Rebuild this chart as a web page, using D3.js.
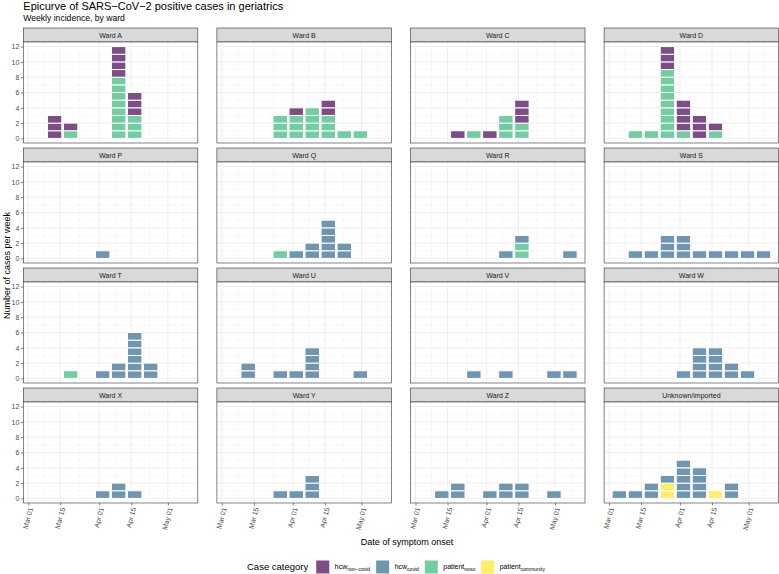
<!DOCTYPE html>
<html><head><meta charset="utf-8">
<script src="https://cdn.jsdelivr.net/npm/d3@7"></script>
<style>
body{margin:0;background:#fff}
svg{display:block}
text{font-family:"Liberation Sans",Arial,Helvetica,sans-serif}
</style>
</head><body>
<svg id="chart" width="779" height="574"></svg>
<script>
// ---------------- data ----------------
const weekStarts = ["2020-03-02","2020-03-09","2020-03-16","2020-03-23","2020-03-30",
                    "2020-04-06","2020-04-13","2020-04-20","2020-04-27","2020-05-04"];
const wards = ["Ward A","Ward B","Ward C","Ward D","Ward P","Ward Q","Ward R","Ward S",
               "Ward T","Ward U","Ward V","Ward W","Ward X","Ward Y","Ward Z","Unknown/imported"];
const categories = ["hcw_non-covid","hcw_covid","patient_noso","patient_community"];
const categoryColors = ["#440154","#31688E","#35B779","#FDE725"];
const legendMain = ["hcw","hcw","patient","patient"];
const legendSub = ["non\u2212covid","covid","noso","community"];

// counts per ward (rows follow `wards`), per weekly bin (columns follow `weekStarts`)
const hcwNonCovid = [
  [0,3,1,0,0,4,3,0,0,0], [0,0,0,0,1,0,2,0,0,0], [0,0,1,0,1,0,3,0,0,0], [0,0,0,3,4,3,1,0,0,0],
  [0,0,0,0,0,0,0,0,0,0], [0,0,0,0,0,0,0,0,0,0], [0,0,0,0,0,0,0,0,0,0], [0,0,0,0,0,0,0,0,0,0],
  [0,0,0,0,0,0,0,0,0,0], [0,0,0,0,0,0,0,0,0,0], [0,0,0,0,0,0,0,0,0,0], [0,0,0,0,0,0,0,0,0,0],
  [0,0,0,0,0,0,0,0,0,0], [0,0,0,0,0,0,0,0,0,0], [0,0,0,0,0,0,0,0,0,0], [0,0,0,0,0,0,0,0,0,0]];
const hcwCovid = [
  [0,0,0,0,0,0,0,0,0,0], [0,0,0,0,0,0,0,0,0,0], [0,0,0,0,0,0,0,0,0,0], [0,0,0,0,0,0,0,0,0,0],
  [0,0,0,0,1,0,0,0,0,0], [0,0,0,0,1,2,5,2,0,0], [0,0,0,0,0,1,1,0,0,1], [0,1,1,3,3,1,1,1,1,1],
  [0,0,0,0,1,2,6,2,0,0], [0,2,0,1,1,4,0,0,1,0], [0,0,0,1,0,1,0,0,1,1], [0,0,0,0,1,4,4,2,1,0],
  [0,0,0,0,1,2,1,0,0,0], [0,0,0,1,1,3,0,0,0,0], [0,1,2,0,1,2,2,0,1,0], [1,1,2,1,5,4,0,2,0,0]];
const patientNoso = [
  [0,0,1,0,0,8,3,0,0,0], [0,0,0,3,3,4,3,1,1,0], [0,0,0,1,0,3,2,0,0,0], [0,1,1,9,1,0,1,0,0,0],
  [0,0,0,0,0,0,0,0,0,0], [0,0,0,1,0,0,0,0,0,0], [0,0,0,0,0,0,2,0,0,0], [0,0,0,0,0,0,0,0,0,0],
  [0,0,1,0,0,0,0,0,0,0], [0,0,0,0,0,0,0,0,0,0], [0,0,0,0,0,0,0,0,0,0], [0,0,0,0,0,0,0,0,0,0],
  [0,0,0,0,0,0,0,0,0,0], [0,0,0,0,0,0,0,0,0,0], [0,0,0,0,0,0,0,0,0,0], [0,0,0,0,0,0,0,0,0,0]];
const patientCommunity = [
  [0,0,0,0,0,0,0,0,0,0], [0,0,0,0,0,0,0,0,0,0], [0,0,0,0,0,0,0,0,0,0], [0,0,0,0,0,0,0,0,0,0],
  [0,0,0,0,0,0,0,0,0,0], [0,0,0,0,0,0,0,0,0,0], [0,0,0,0,0,0,0,0,0,0], [0,0,0,0,0,0,0,0,0,0],
  [0,0,0,0,0,0,0,0,0,0], [0,0,0,0,0,0,0,0,0,0], [0,0,0,0,0,0,0,0,0,0], [0,0,0,0,0,0,0,0,0,0],
  [0,0,0,0,0,0,0,0,0,0], [0,0,0,0,0,0,0,0,0,0], [0,0,0,0,0,0,0,0,0,0], [0,0,0,2,0,0,1,0,0,0]];

const yTicks = [0,2,4,6,8,10,12];
const xTickDates = ["2020-03-01","2020-03-15","2020-04-01","2020-04-15","2020-05-01"];
const xTickLabels = ["Mar 01","Mar 15","Apr 01","Apr 15","May 01"];
const xMinorDates = ["2020-03-08","2020-03-23T12:00","2020-04-08","2020-04-23","2020-05-08"];

// ---------------- layout ----------------
const svg = d3.select("#chart");
const nCol = 4;
const colLeft0 = 23.3, colPitch = 193.6, panelW = 174.5;
const rowTop0 = 28, rowPitch = 120, stripH = 14, panelH = 101;
const parse = s => new Date(s + (s.length > 10 ? ":00Z" : "T00:00:00Z"));

const x = d3.scaleUtc()
  .domain([parse("2020-02-27T19:40"), parse("2020-05-14T02:00")])
  .range([0, panelW]);
const y = d3.scaleLinear().domain([-0.6, 12.6]).range([panelH, 0]);

// stacking order bottom -> top
const stackOrder = [
  {cat: 3, data: patientCommunity},
  {cat: 2, data: patientNoso},
  {cat: 1, data: hcwCovid},
  {cat: 0, data: hcwNonCovid}
];

const fmtColor = (c) => {
  const col = d3.rgb(c);
  const a = 0.7;
  return d3.rgb(col.r*a + 255*(1-a), col.g*a + 255*(1-a), col.b*a + 255*(1-a)).formatHex();
};

// title
svg.append("text").attr("x", 23.3).attr("y", 9.5)
  .attr("font-size", 11).attr("fill", "#000")
  .text("Epicurve of SARS\u2212CoV\u22122 positive cases in geriatrics");
svg.append("text").attr("x", 23.3).attr("y", 20.5)
  .attr("font-size", 8.6).attr("fill", "#000")
  .text("Weekly incidence, by ward");

wards.forEach((ward, wi) => {
  const col = wi % nCol, row = Math.floor(wi / nCol);
  const left = colLeft0 + col * colPitch;
  const top = rowTop0 + row * rowPitch;

  // strip
  svg.append("rect").attr("x", left).attr("y", top).attr("width", panelW).attr("height", stripH)
    .attr("fill", "#D9D9D9").attr("stroke", "#333").attr("stroke-width", 0.6);
  svg.append("text").attr("x", left + panelW/2).attr("y", top + stripH/2 + 2.5)
    .attr("text-anchor", "middle").attr("font-size", 7).attr("fill", "#1A1A1A").text(ward);

  const g = svg.append("g").attr("transform", `translate(${left},${top + stripH})`);
  g.append("rect").attr("width", panelW).attr("height", panelH).attr("fill", "#fff");

  // grid minor
  g.selectAll(".hmin").data([1,3,5,7,9,11]).join("line")
    .attr("x1", 0).attr("x2", panelW).attr("y1", d => y(d)).attr("y2", d => y(d))
    .attr("stroke", "#F0F0F0").attr("stroke-width", 0.5);
  g.selectAll(".vmin").data(xMinorDates).join("line")
    .attr("y1", 0).attr("y2", panelH).attr("x1", d => x(parse(d))).attr("x2", d => x(parse(d)))
    .attr("stroke", "#F0F0F0").attr("stroke-width", 0.5);
  // grid major
  g.selectAll(".hmaj").data(yTicks).join("line")
    .attr("x1", 0).attr("x2", panelW).attr("y1", d => y(d)).attr("y2", d => y(d))
    .attr("stroke", "#EBEBEB").attr("stroke-width", 0.8);
  g.selectAll(".vmaj").data(xTickDates).join("line")
    .attr("y1", 0).attr("y2", panelH).attr("x1", d => x(parse(d))).attr("x2", d => x(parse(d)))
    .attr("stroke", "#EBEBEB").attr("stroke-width", 0.8);

  // bars: one rect per case
  const units = [];
  weekStarts.forEach((ws, k) => {
    let cum = 0;
    stackOrder.forEach(s => {
      const n = s.data[wi][k];
      for (let i = 0; i < n; i++) {
        units.push({k, cat: s.cat, y0: cum, y1: cum + 1});
        cum += 1;
      }
    });
  });
  const day = 864e5;
  g.selectAll(".unit").data(units).join("rect")
    .attr("x", d => {
      const s = x(parse(weekStarts[d.k])), e = x(new Date(+parse(weekStarts[d.k]) + 7*day));
      return s + (e - s) * 0.05;
    })
    .attr("width", d => {
      const s = x(parse(weekStarts[d.k])), e = x(new Date(+parse(weekStarts[d.k]) + 7*day));
      return (e - s) * 0.9;
    })
    .attr("y", d => y(d.y1)).attr("height", d => y(d.y0) - y(d.y1))
    .attr("fill", d => fmtColor(categoryColors[d.cat]))
    .attr("stroke", "#fff").attr("stroke-width", 1);

  // border
  g.append("rect").attr("width", panelW).attr("height", panelH)
    .attr("fill", "none").attr("stroke", "#333").attr("stroke-width", 0.6);

  // y axis
  if (col === 0) {
    const ya = g.append("g").call(d3.axisLeft(y).tickValues(yTicks).tickSize(2.5).tickPadding(1.5));
    ya.select(".domain").remove();
    ya.selectAll("line").attr("stroke", "#333").attr("stroke-width", 0.6);
    ya.selectAll("text").attr("font-size", 7).attr("fill", "#4D4D4D")
      .attr("font-family", "Liberation Sans, Arial, sans-serif");
  }
  // x axis
  if (row === 3) {
    const xa = g.append("g").attr("transform", `translate(0,${panelH})`)
      .call(d3.axisBottom(x).tickValues(xTickDates.map(parse))
        .tickFormat((d, i) => xTickLabels[i]).tickSize(2.5).tickPadding(1.5));
    xa.select(".domain").remove();
    xa.selectAll("line").attr("stroke", "#333").attr("stroke-width", 0.6);
    xa.selectAll("text").attr("font-size", 7).attr("fill", "#4D4D4D")
      .attr("font-family", "Liberation Sans, Arial, sans-serif")
      .attr("text-anchor", "end").attr("dy", "0.35em")
      .attr("transform", "translate(2,4.5) rotate(-75)")
      .attr("y", 0).attr("x", 0);
  }
});

// axis titles
svg.append("text").attr("transform", "translate(9.5,265.5) rotate(-90)")
  .attr("text-anchor", "middle").attr("font-size", 9).attr("fill", "#000")
  .text("Number of cases per week");
svg.append("text").attr("x", 407).attr("y", 544.5)
  .attr("text-anchor", "middle").attr("font-size", 9).attr("fill", "#000")
  .text("Date of symptom onset");

// legend
const lg = svg.append("g");
let lx = 247;
const lt = lg.append("text").attr("x", lx).attr("y", 570).attr("font-size", 9.5).attr("fill", "#000")
  .text("Case category");
lx += lt.node().getComputedTextLength() + 8;
categories.forEach((c, i) => {
  lg.append("rect").attr("x", lx).attr("y", 560.5).attr("width", 13).attr("height", 13)
    .attr("fill", fmtColor(categoryColors[i]));
  lx += 13 + 5.5;
  const t = lg.append("text").attr("x", lx).attr("y", 568.5).attr("font-size", 7).attr("fill", "#000");
  t.append("tspan").text(legendMain[i]);
  t.append("tspan").attr("dy", 2).attr("font-size", 5).text(legendSub[i]);
  lx += t.node().getComputedTextLength() + 6;
});
</script>
</body></html>
